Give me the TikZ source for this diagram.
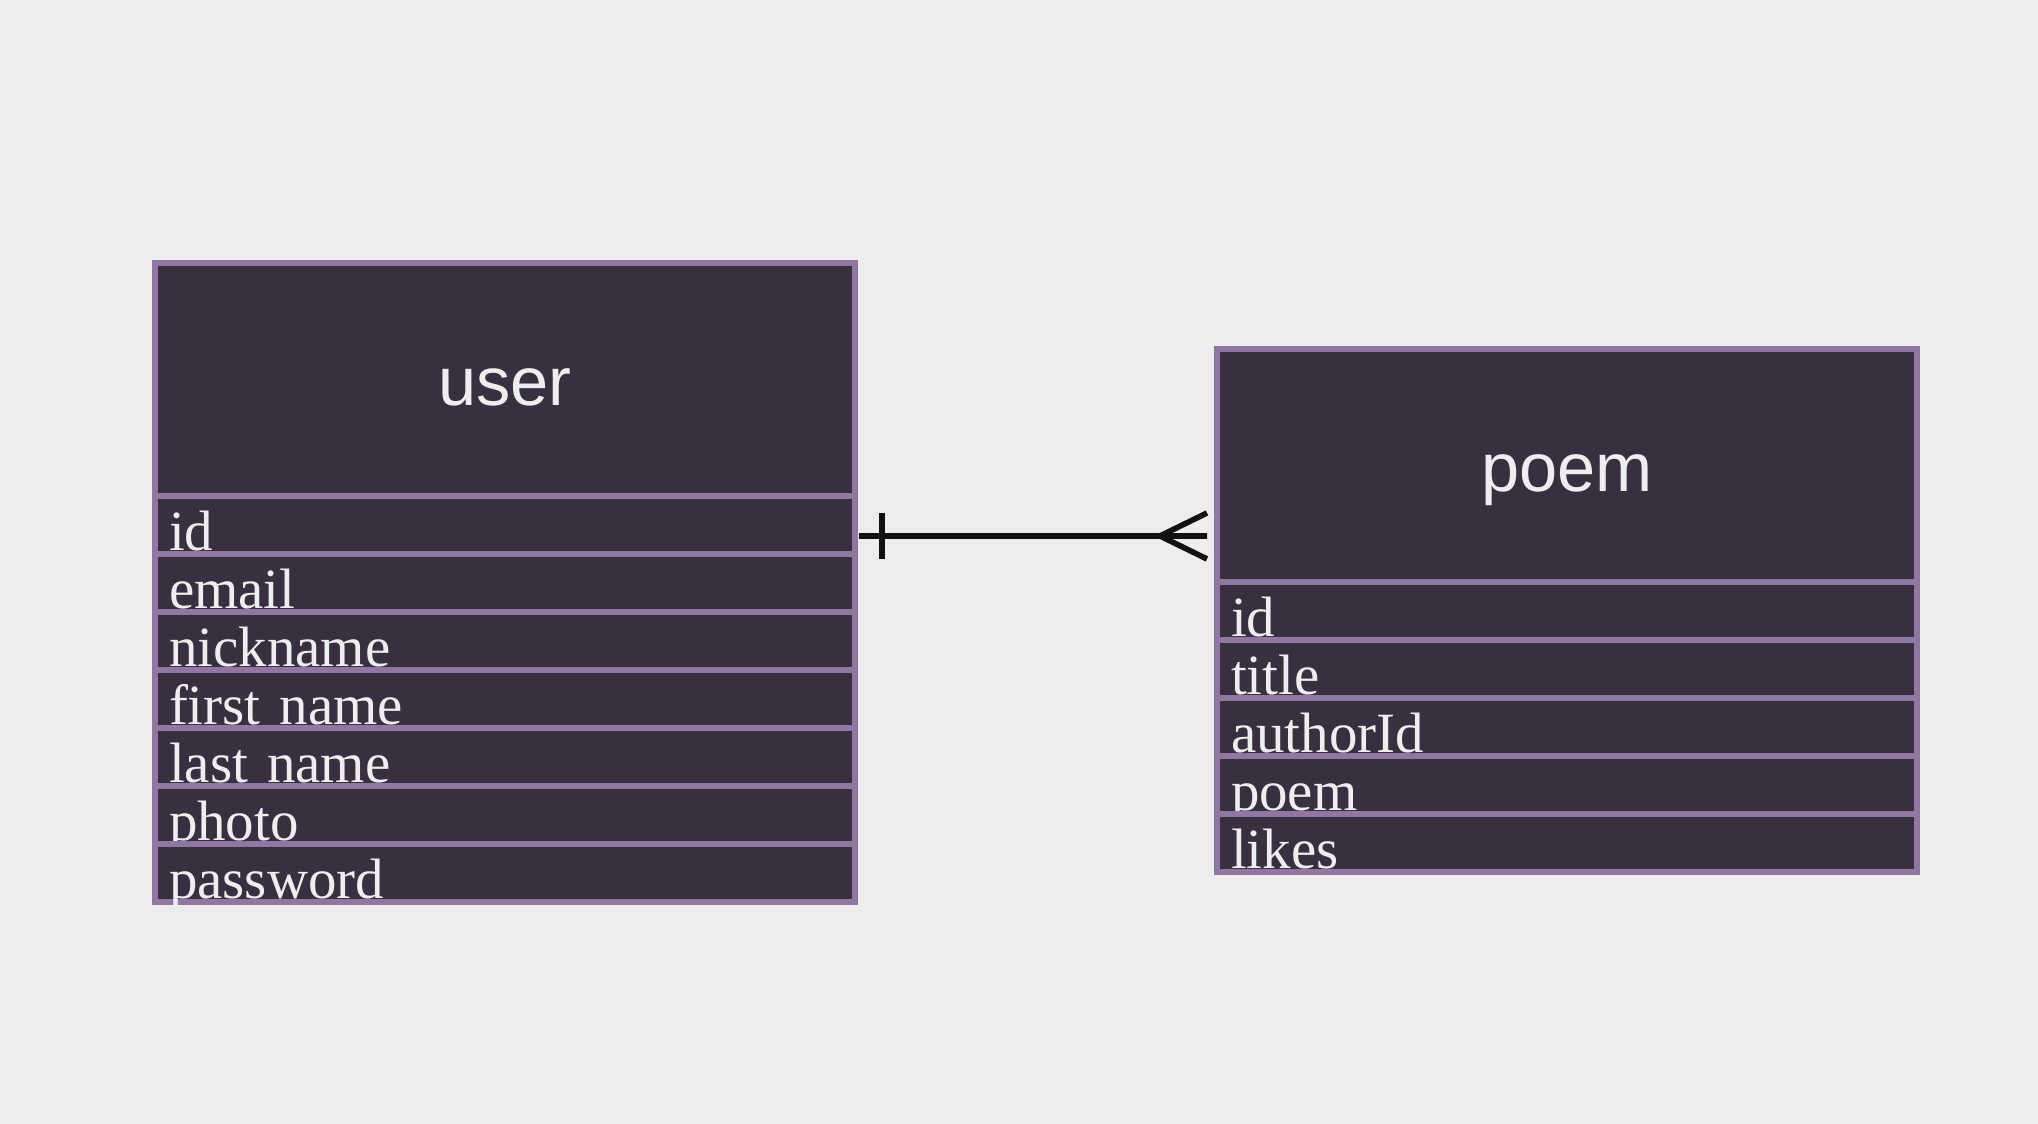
\documentclass[tikz,border=0pt]{standalone}
\usepackage{fontspec}
\setmainfont{Liberation Serif}
\newfontfamily\headfont{Liberation Sans}
\usetikzlibrary{positioning, calc}
\definecolor{pagebg}{RGB}{237, 237, 237}
\definecolor{tblfill}{RGB}{56, 48, 65}
\definecolor{tblline}{RGB}{144, 119, 161}
\definecolor{tbltext}{RGB}{238, 238, 238}
\definecolor{linkblack}{RGB}{17, 17, 17}

\begin{document}
\begin{tikzpicture}[
  tblhead/.style={draw=tblline, fill=tblfill, line width=1.6pt, outer sep=0pt, inner sep=0pt, minimum width=7cm, minimum height=2.33cm, text height=0.52cm, text depth=0pt, text=tbltext, font=\headfont\fontsize{19.5pt}{23pt}\selectfont},
  tblrow/.style={draw=tblline, fill=tblfill, line width=1.6pt, outer sep=0pt, inner xsep=0.14cm, inner ysep=0pt, text width=6.72cm, align=left, minimum height=0.58cm, text height=0.55cm, text depth=0.03cm, text=tbltext, font=\fontsize{16.2pt}{19pt}\selectfont},
  link/.style={draw=linkblack, line width=1.6pt}
]
  \fill[pagebg] (0, 0) rectangle (20.38, 11.24);
  \useasboundingbox (0, 0) rectangle (20.38, 11.24);

  % user table
  \begin{scope}
    \clip (1.52, 2.19) rectangle (8.58, 8.64);
    \node[tblhead, anchor=north west] (userhead) at (1.55, 8.61) {user};
    \node[tblrow, below=0pt of userhead] (userid) {id};
    \node[tblrow, below=0pt of userid] (useremail) {email};
    \node[tblrow, below=0pt of useremail] (usernick) {nickname};
    \node[tblrow, below=0pt of usernick] (userfirst) {first name};
    \node[tblrow, below=0pt of userfirst] (userlast) {last name};
    \node[tblrow, below=0pt of userlast] (userphoto) {photo};
    \node[tblrow, below=0pt of userphoto] (userpass) {password};
  \end{scope}

  % poem table
  \node[tblhead, anchor=north west] (poemhead) at (12.17, 7.75) {poem};
  \node[tblrow, below=0pt of poemhead] (poemid) {id};
  \node[tblrow, below=0pt of poemid] (poemtitle) {title};
  \node[tblrow, below=0pt of poemtitle] (poemauthor) {authorId};
  \node[tblrow, below=0pt of poemauthor] (poemtext) {poem};
  \node[tblrow, below=0pt of poemtext] (poemlikes) {likes};

  % relation: one user -- many poems
  \coordinate (one) at ($(userhead.south east)+(0.04, -0.40)$);
  \coordinate (many) at ($(poemhead.north west)+(-0.10, -1.87)$);
  \draw[link] (one) -- (many);
  \draw[link] ($(one)+(0.23, 0.23)$) -- ++(0, -0.46);
  \draw[link] ($(many)+(0, 0.23)$) -- ($(many)+(-0.47, 0)$) -- ($(many)+(0, -0.23)$);
\end{tikzpicture}
\end{document}
